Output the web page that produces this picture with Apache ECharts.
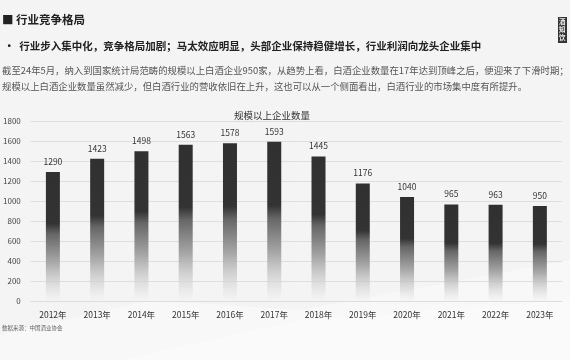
<!DOCTYPE html>
<html><head><meta charset="utf-8">
<script src="https://cdn.jsdelivr.net/npm/echarts@6/dist/echarts.min.js"></script>
<style>html,body{margin:0;padding:0;background:#f4f4f4;}#c{width:570px;height:360px;}</style>
</head><body><div id="c"></div>
<script>
const years = ['2012年','2013年','2014年','2015年','2016年','2017年','2018年','2019年','2020年','2021年','2022年','2023年'];
const counts = [1290,1423,1498,1563,1578,1593,1445,1176,1040,965,963,950];
const yTicks = [0,200,400,600,800,1000,1200,1400,1600,1800];

const FONT = '"Noto Sans CJK SC", "Noto Sans", sans-serif';
const chart = echarts.init(document.getElementById('c'), null, {renderer:'canvas'});
chart.setOption({
  backgroundColor: '#f4f4f4',
  textStyle: {fontFamily: FONT},
  animation: false,
  graphic: [
    {type:'polygon', silent:true, z:0, shape:{points:[[0,335],[150,300],[300,310],[570,260],[570,360],[0,360]]}, style:{fill:'rgba(255,255,255,0.35)'}},
    {type:'polygon', silent:true, z:0, shape:{points:[[120,360],[300,320],[570,300],[570,360]]}, style:{fill:'rgba(255,255,255,0.3)'}},
    {type:'text', left:2, top:14, style:{text:'■ 行业竞争格局', font:'bold 11.5px '+FONT, fill:'#222'}},
    {type:'text', left:4, top:41, style:{text:'·  行业步入集中化，竞争格局加剧；马太效应明显，头部企业保持稳健增长，行业利润向龙头企业集中', font:'bold 10.5px '+FONT, fill:'#222'}},
    {type:'text', left:2, top:66, style:{text:'截至24年5月，纳入到国家统计局范畴的规模以上白酒企业950家，从趋势上看，白酒企业数量在17年达到顶峰之后，便迎来了下滑时期；', font:'9.4px '+FONT, fill:'#555'}},
    {type:'text', left:2, top:82, style:{text:'规模以上白酒企业数量虽然减少，但白酒行业的营收依旧在上升，这也可以从一个侧面看出，白酒行业的市场集中度有所提升。', font:'9.4px '+FONT, fill:'#555'}},
    {type:'text', left:2, top:325, style:{text:'数据来源：中国酒业协会', font:'5.5px '+FONT, fill:'#666'}},
    {type:'rect', left:558, top:17, shape:{width:9, height:26}, style:{fill:'#333'}},
    {type:'text', left:559, top:18, style:{text:'酒', font:'bold 6.5px '+FONT, fill:'#eee'}},
    {type:'text', left:559, top:26, style:{text:'知', font:'bold 6.5px '+FONT, fill:'#eee'}},
    {type:'text', left:559, top:34, style:{text:'饮', font:'bold 6.5px '+FONT, fill:'#eee'}}
  ],
  title: {
    text: '规模以上企业数量', left: 229, top: 106,
    textStyle: {fontSize: 9.5, fontWeight: 'normal', color: '#333', fontFamily: FONT}
  },
  grid: {left: 28, right: 8, top: 121, bottom: 59},
  xAxis: {
    type: 'category', data: years,
    axisLine: {show: true, lineStyle: {color: '#ddd'}},
    axisTick: {show: false},
    axisLabel: {color: '#333', fontSize: 8.5, margin: 10, fontFamily: FONT}
  },
  yAxis: {
    type: 'value', min: 0, max: 1800, interval: 200,
    axisLine: {show: false}, axisTick: {show: false},
    axisLabel: {color: '#444', fontSize: 8, margin: 10, fontFamily: FONT, formatter: v => String(v)},
    splitLine: {lineStyle: {color: '#dedede', width: 1}}
  },
  series: [{
    type: 'bar', data: counts, barWidth: 14,
    itemStyle: {
      color: {type:'linear', x:0, y:0, x2:0, y2:1, colorStops:[
        {offset:0, color:'#303030'},
        {offset:0.40, color:'#333333'},
        {offset:0.48, color:'#666666'},
        {offset:0.70, color:'#a8a8a8'},
        {offset:1, color:'rgba(244,244,244,0.5)'}
      ]}
    },
    label: {show: true, position: 'top', distance: 6, color: '#333', fontSize: 8.5, fontFamily: FONT}
  }]
});
</script></body></html>
